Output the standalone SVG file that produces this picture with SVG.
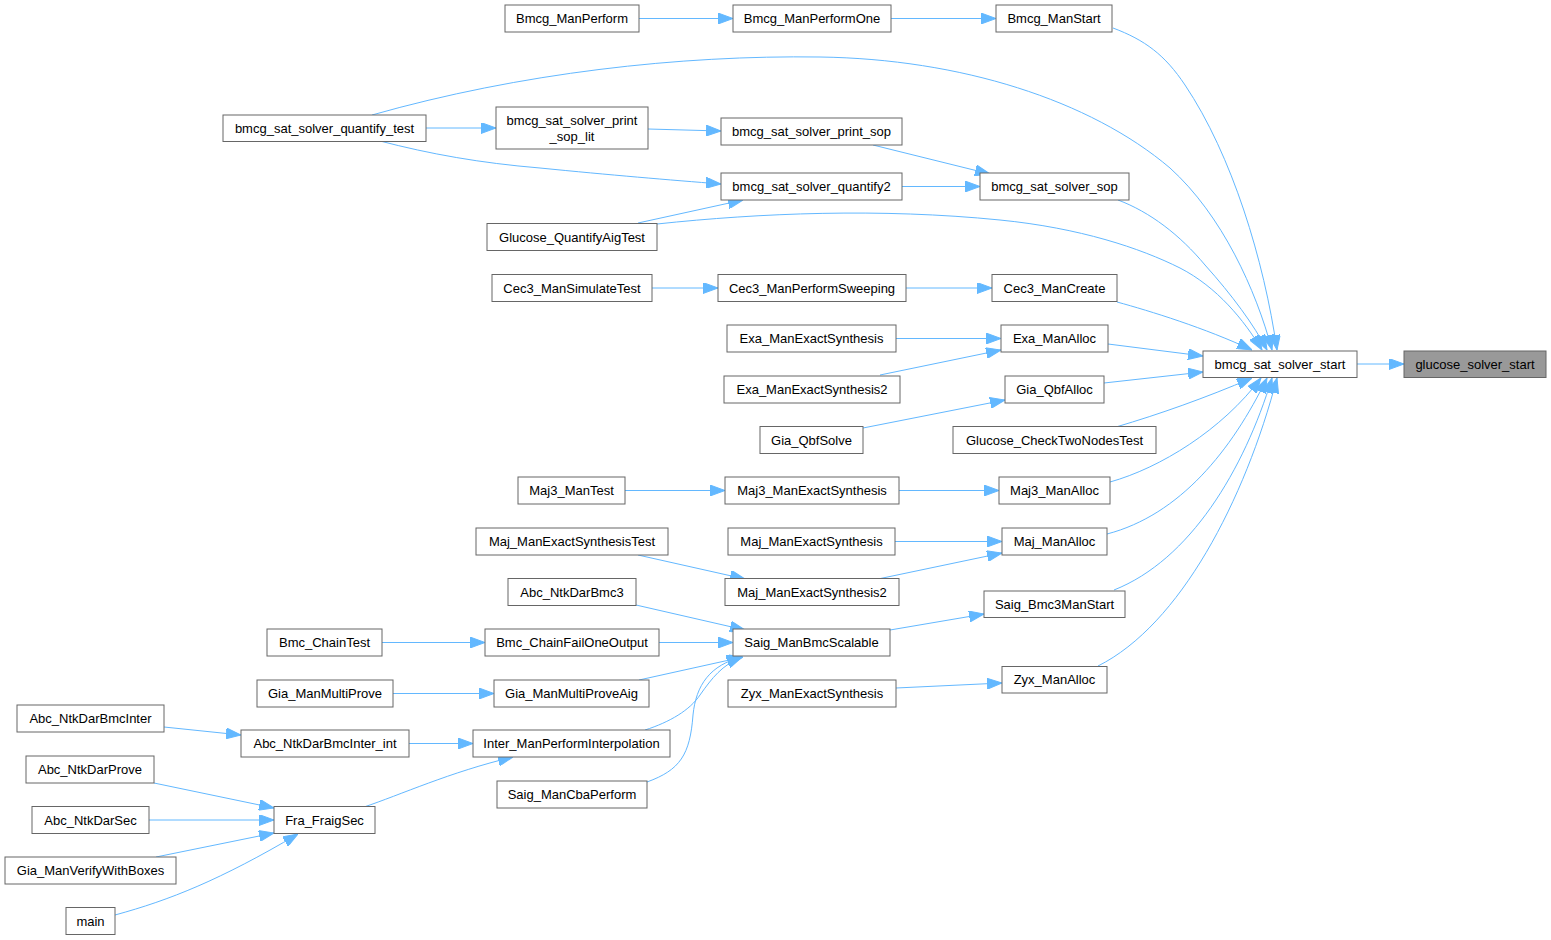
<svg xmlns="http://www.w3.org/2000/svg" width="1551" height="940" viewBox="0 0 1551 940">
<style>
.n rect{fill:#fff;stroke:#666;stroke-width:1}
.n text{font-family:"Liberation Sans",Arial,sans-serif;font-size:13px;fill:#000;text-anchor:middle}
#n_glucose rect{fill:#999}
.e path{fill:none;stroke:#63b8ff;stroke-width:1;marker-end:url(#ah)}
</style>
<defs>
<marker id="ah" markerUnits="userSpaceOnUse" viewBox="0 0 15 11" refX="15" refY="5.5" markerWidth="15" markerHeight="11" orient="auto">
<path d="M0,0 L15,5.5 L0,11 z" fill="#63b8ff" stroke="#63b8ff" stroke-width="1"/>
</marker>
</defs>
<rect width="1551" height="940" fill="#fff"/>
<g id="edges" class="e">
<path d="M1357,364 L1404,364"/>
<path d="M1113,28 C1145,40 1165,55 1185,85 C1232,155 1264,260 1277,350"/>
<path d="M372,115 C520,73 680,55 820,57 C960,59 1090,100 1170,168 C1222,215 1256,290 1272,350"/>
<path d="M1118,200 C1150,212 1180,235 1205,265 C1232,295 1254,325 1267,350"/>
<path d="M657,224 C760,213 880,208 1000,220 C1080,228 1140,248 1180,268 C1217,287 1244,320 1262,350"/>
<path d="M1117,302 C1150,311 1205,328 1252,350"/>
<path d="M1108,344 L1203,356"/>
<path d="M1104,383 L1203,372"/>
<path d="M1116,427 C1160,414 1205,398 1252,378"/>
<path d="M1110,482 C1160,468 1222,430 1261,378"/>
<path d="M1107,534 C1180,515 1232,450 1267,378"/>
<path d="M1114,590 C1190,560 1244,470 1272,378"/>
<path d="M1098,666 C1180,625 1245,500 1277,378"/>
<path d="M639,18.5 L733,18.5"/>
<path d="M891,18.5 L996,18.5"/>
<path d="M426,128 L496,128"/>
<path d="M648,129 L721,131"/>
<path d="M380,141 C430,154 480,163 540,168 C610,175 670,180 721,184"/>
<path d="M873,145 L990,174"/>
<path d="M902,186.5 L980,186.5"/>
<path d="M638,223 L743,200"/>
<path d="M652,288 L718,288"/>
<path d="M906,288 L992,288"/>
<path d="M896,338.5 L1001,338.5"/>
<path d="M880,375 L1001,350"/>
<path d="M863,428 L1005,400"/>
<path d="M625,490.5 L725,490.5"/>
<path d="M899,490.5 L999,490.5"/>
<path d="M895,541.5 L1002,541.5"/>
<path d="M638,555 L745,579"/>
<path d="M878,579 L1002,553"/>
<path d="M636,605 L745,630"/>
<path d="M890,630 L984,614"/>
<path d="M382,642.5 L485,642.5"/>
<path d="M659,642.5 L733,642.5"/>
<path d="M393,693.5 L494,693.5"/>
<path d="M639,680 L743,657"/>
<path d="M645,730 C670,722 690,710 700,695 C712,678 722,665 742,657"/>
<path d="M647,782 C680,770 690,755 693,715 C696,685 710,665 742,657"/>
<path d="M896,688 L1002,683"/>
<path d="M164,727 L241,735"/>
<path d="M409,743.5 L473,743.5"/>
<path d="M364,807 C400,795 450,772 513,757"/>
<path d="M154,783 L274,808"/>
<path d="M149,820 L274,820"/>
<path d="M156,857 L274,833"/>
<path d="M115,915 C170,900 220,880 298,834"/>
</g>
<g id="n_glucose" class="n"><rect x="1404" y="351" width="142" height="26.5"/><text x="1475" y="368.5">glucose_solver_start</text></g>
<g id="n_start" class="n"><rect x="1203" y="351" width="154" height="26.5"/><text x="1280" y="368.5">bmcg_sat_solver_start</text></g>
<g id="n_BmcgManStart" class="n"><rect x="996" y="5" width="116" height="27"/><text x="1054" y="23">Bmcg_ManStart</text></g>
<g id="n_BmcgManPerformOne" class="n"><rect x="733" y="5" width="158" height="27"/><text x="812" y="23">Bmcg_ManPerformOne</text></g>
<g id="n_BmcgManPerform" class="n"><rect x="505" y="5" width="134" height="27"/><text x="572" y="23">Bmcg_ManPerform</text></g>
<g id="n_quantify_test" class="n"><rect x="223" y="115" width="203" height="26.5"/><text x="324.5" y="132.5">bmcg_sat_solver_quantify_test</text></g>
<g id="n_print_sop_lit" class="n"><rect x="496" y="107" width="152" height="42"/><text x="572" y="124.5">bmcg_sat_solver_print</text><text x="572" y="140.5">_sop_lit</text></g>
<g id="n_print_sop" class="n"><rect x="721" y="118" width="181" height="27"/><text x="811.5" y="136">bmcg_sat_solver_print_sop</text></g>
<g id="n_quantify2" class="n"><rect x="721" y="173" width="181" height="27"/><text x="811.5" y="191">bmcg_sat_solver_quantify2</text></g>
<g id="n_sop" class="n"><rect x="980" y="173" width="149" height="27"/><text x="1054.5" y="191">bmcg_sat_solver_sop</text></g>
<g id="n_GlucoseQuantifyAigTest" class="n"><rect x="487" y="223.5" width="170" height="27"/><text x="572" y="241.5">Glucose_QuantifyAigTest</text></g>
<g id="n_Cec3ManSimulateTest" class="n"><rect x="492" y="274.5" width="160" height="27"/><text x="572" y="292.5">Cec3_ManSimulateTest</text></g>
<g id="n_Cec3ManPerformSweeping" class="n"><rect x="718" y="274.5" width="188" height="27"/><text x="812" y="292.5">Cec3_ManPerformSweeping</text></g>
<g id="n_Cec3ManCreate" class="n"><rect x="992" y="274.5" width="125" height="27"/><text x="1054.5" y="292.5">Cec3_ManCreate</text></g>
<g id="n_ExaManExactSynthesis" class="n"><rect x="727" y="325" width="169" height="27"/><text x="811.5" y="343">Exa_ManExactSynthesis</text></g>
<g id="n_ExaManAlloc" class="n"><rect x="1001" y="325" width="107" height="27"/><text x="1054.5" y="343">Exa_ManAlloc</text></g>
<g id="n_ExaManExactSynthesis2" class="n"><rect x="724" y="376" width="176" height="27"/><text x="812" y="394">Exa_ManExactSynthesis2</text></g>
<g id="n_GiaQbfAlloc" class="n"><rect x="1005" y="376" width="99" height="27"/><text x="1054.5" y="394">Gia_QbfAlloc</text></g>
<g id="n_GiaQbfSolve" class="n"><rect x="760" y="426.5" width="103" height="27"/><text x="811.5" y="444.5">Gia_QbfSolve</text></g>
<g id="n_GlucoseCheckTwoNodesTest" class="n"><rect x="953" y="426.5" width="203" height="27"/><text x="1054.5" y="444.5">Glucose_CheckTwoNodesTest</text></g>
<g id="n_Maj3ManTest" class="n"><rect x="518" y="477" width="107" height="27"/><text x="571.5" y="495">Maj3_ManTest</text></g>
<g id="n_Maj3ManExactSynthesis" class="n"><rect x="725" y="477" width="174" height="27"/><text x="812" y="495">Maj3_ManExactSynthesis</text></g>
<g id="n_Maj3ManAlloc" class="n"><rect x="999" y="477" width="111" height="27"/><text x="1054.5" y="495">Maj3_ManAlloc</text></g>
<g id="n_MajManExactSynthesisTest" class="n"><rect x="476" y="528" width="192" height="27"/><text x="572" y="546">Maj_ManExactSynthesisTest</text></g>
<g id="n_MajManExactSynthesis" class="n"><rect x="728" y="528" width="167" height="27"/><text x="811.5" y="546">Maj_ManExactSynthesis</text></g>
<g id="n_MajManAlloc" class="n"><rect x="1002" y="528" width="105" height="27"/><text x="1054.5" y="546">Maj_ManAlloc</text></g>
<g id="n_AbcNtkDarBmc3" class="n"><rect x="508" y="578.5" width="128" height="27"/><text x="572" y="596.5">Abc_NtkDarBmc3</text></g>
<g id="n_MajManExactSynthesis2" class="n"><rect x="725" y="578.5" width="174" height="27"/><text x="812" y="596.5">Maj_ManExactSynthesis2</text></g>
<g id="n_SaigBmc3ManStart" class="n"><rect x="984" y="591" width="141" height="26.5"/><text x="1054.5" y="608.5">Saig_Bmc3ManStart</text></g>
<g id="n_BmcChainTest" class="n"><rect x="267" y="629" width="115" height="27"/><text x="324.5" y="647">Bmc_ChainTest</text></g>
<g id="n_BmcChainFailOneOutput" class="n"><rect x="485" y="629" width="174" height="27"/><text x="572" y="647">Bmc_ChainFailOneOutput</text></g>
<g id="n_SaigManBmcScalable" class="n"><rect x="733" y="629" width="157" height="27"/><text x="811.5" y="647">Saig_ManBmcScalable</text></g>
<g id="n_ZyxManAlloc" class="n"><rect x="1002" y="666.5" width="105" height="26.5"/><text x="1054.5" y="684">Zyx_ManAlloc</text></g>
<g id="n_GiaManMultiProve" class="n"><rect x="257" y="680" width="136" height="27"/><text x="325" y="698">Gia_ManMultiProve</text></g>
<g id="n_GiaManMultiProveAig" class="n"><rect x="494" y="680" width="155" height="27"/><text x="571.5" y="698">Gia_ManMultiProveAig</text></g>
<g id="n_ZyxManExactSynthesis" class="n"><rect x="728" y="680" width="168" height="27"/><text x="812" y="698">Zyx_ManExactSynthesis</text></g>
<g id="n_AbcNtkDarBmcInter" class="n"><rect x="17" y="705" width="147" height="27"/><text x="90.5" y="723">Abc_NtkDarBmcInter</text></g>
<g id="n_AbcNtkDarBmcInter_int" class="n"><rect x="241" y="730" width="168" height="27"/><text x="325" y="748">Abc_NtkDarBmcInter_int</text></g>
<g id="n_InterManPerformInterpolation" class="n"><rect x="473" y="730" width="197" height="27"/><text x="571.5" y="748">Inter_ManPerformInterpolation</text></g>
<g id="n_AbcNtkDarProve" class="n"><rect x="26" y="756" width="128" height="27"/><text x="90" y="774">Abc_NtkDarProve</text></g>
<g id="n_SaigManCbaPerform" class="n"><rect x="497" y="781" width="150" height="27"/><text x="572" y="799">Saig_ManCbaPerform</text></g>
<g id="n_AbcNtkDarSec" class="n"><rect x="32" y="806.5" width="117" height="27"/><text x="90.5" y="824.5">Abc_NtkDarSec</text></g>
<g id="n_FraFraigSec" class="n"><rect x="274" y="806.5" width="101" height="27"/><text x="324.5" y="824.5">Fra_FraigSec</text></g>
<g id="n_GiaManVerifyWithBoxes" class="n"><rect x="5" y="857" width="171" height="27"/><text x="90.5" y="875">Gia_ManVerifyWithBoxes</text></g>
<g id="n_main" class="n"><rect x="66" y="907.5" width="49" height="27"/><text x="90.5" y="925.5">main</text></g>
</svg>
